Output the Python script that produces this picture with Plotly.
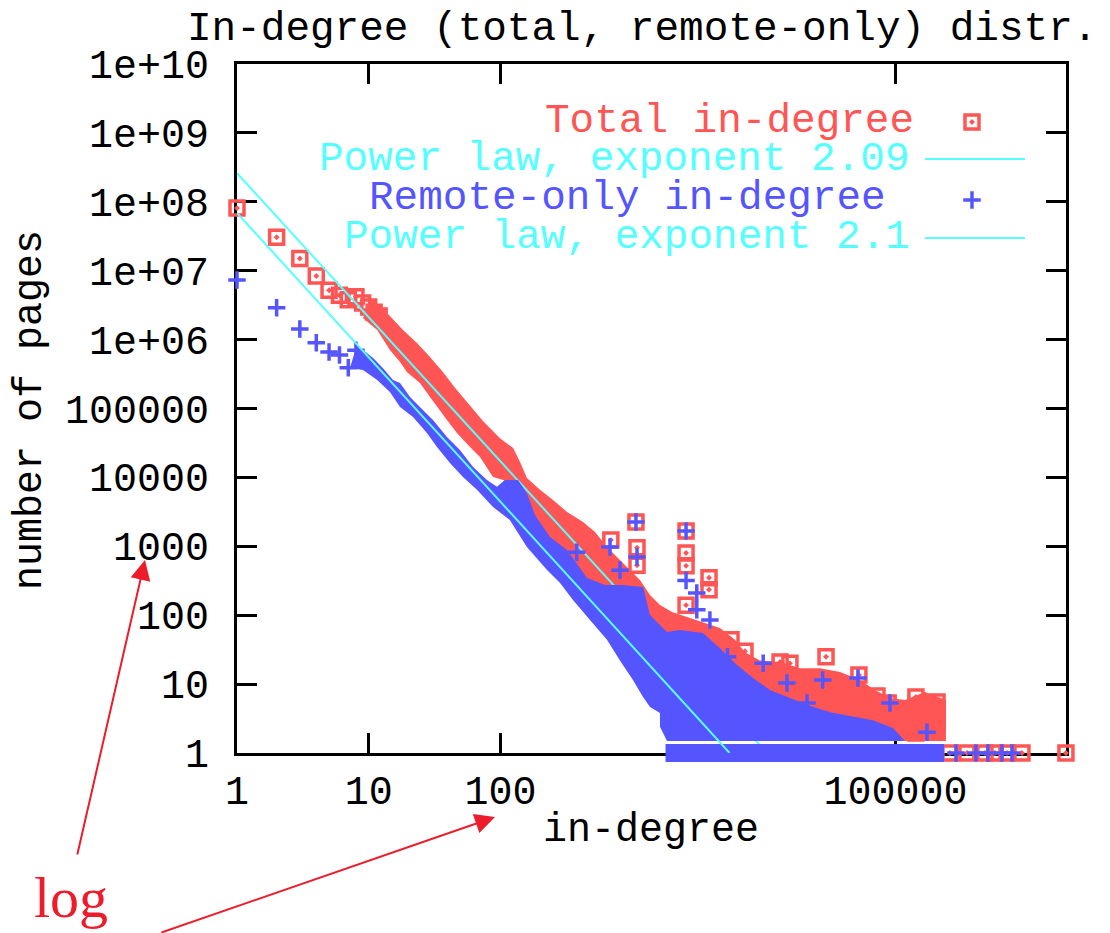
import plotly.graph_objects as go

RED = "#FF5555"
BLUE = "#5555FF"
CYAN = "#55FFFF"
NOTE_RED = "#EC1C2A"
FONT = "Liberation Mono"

# ---------------- data ----------------
# Total in-degree: isolated points (in-degree, number of pages)
total_k = [1, 2, 3, 4, 5, 6, 7, 8, 9, 10, 11, 12]
total_n = [8.1e7, 3.05e7, 1.5e7, 8.4e6, 5.2e6, 4.4e6, 3.8e6, 4.2e6, 3.4e6, 2.97e6, 2.5e6, 2.2e6]
total_out_k = [690, 1070, 1090, 1090, 2570, 2570, 2570, 2570, 3840, 3840, 5640, 7200,
               13300, 15800, 29700, 52800, 72400, 88000, 88000, 143000, 143000, 143000,
               143000, 207000, 207000]
total_out_n = [1230, 2250, 950, 530, 1670, 800, 520, 140, 350, 235, 44, 30,
               21, 20, 25, 13.6, 6.7, 5.3, 3.0, 6.5, 4.5, 2.8,
               1.95, 5.5, 2.8]
total_tail_k = [259000, 349000, 478000, 569000, 703000, 913000, 1970000]
total_tail_n = [1, 1, 1, 1, 1, 1, 1]
# Total in-degree: outline of the dense cloud of overlapping points
total_band_k = [10.6, 13.8, 18.2, 23.3, 29.2, 36.6, 45.2, 55.7, 73.8, 99.3, 125, 141, 159, 200,
                251, 321, 424, 523, 645, 809, 1148, 1368, 1629, 2010, 2754, 3580, 4648, 6043,
                7200, 9350, 13280, 18840, 26720, 37930, 53740, 69850, 90800, 118000, 167500,
                241700, 241700,
                2311, 1148, 809, 479, 284, 183, 141, 118, 87.9, 70, 58.8, 46.8, 39.3, 33, 29.2,
                24.5, 19.5, 17.3, 14.5, 11.6, 9.05]
total_band_n = [3.76e6, 2.43e6, 1.38e6, 8.9e5, 5.6e5, 3.4e5, 2.0e5, 1.24e5, 6.6e4, 3.7e4, 2.67e4,
                1.67e4, 9.8e3, 6.6e3, 4.7e3, 3.15e3, 2.25e3, 1.61e3, 977, 632, 324, 196, 141, 111,
                91, 77, 65, 44, 29, 22, 21, 17, 17, 15, 11.5, 8.2, 6.3, 5.9, 7.7,
                5.9, 1.49,
                1.49, 11.5, 37, 141, 453, 1230, 3970, 8600, 1.01e4, 1.98e4, 2.76e4, 4.41e4,
                6.81e4, 1.05e5, 1.47e5, 2.35e5, 3.39e5, 4.73e5, 7.06e5, 1.38e6, 2.06e6]

# Remote-only in-degree
remote_k = [1, 2, 3, 4, 5, 6, 7, 8, 9]
remote_n = [7.3e6, 2.9e6, 1.43e6, 9.0e5, 6.6e5, 6.0e5, 3.9e5, 7.0e5, 5.0e5]
remote_out_k = [380, 680, 810, 1070, 1090, 2570, 2570, 3100, 3100, 3900, 5300, 9900, 15000,
                11700, 21300, 28000, 30200, 51900, 90800, 173500]
remote_out_n = [820, 980, 450, 2250, 700, 1670, 320, 210, 120, 85, 25, 20, 10.4,
                5.3, 5.3, 11.5, 3.0, 12.3, 5.3, 2.0]
remote_tail_k = [288000, 408000, 504000, 644000, 767000]
remote_tail_n = [1, 1, 1, 1, 1]
# run of pages seen exactly once (solid row on the bottom axis)
remote_run_k = [2100, 2500, 3000, 3600, 4300, 5100, 6000, 7200, 8600, 10200, 12200, 14500,
                17300, 20600, 24500, 29200, 34700, 41400, 49300, 58700, 69900, 83200, 99100,
                118000, 141000, 168000, 200000]
remote_run_n = [1, 1, 1, 1, 1, 1, 1, 1, 1, 1, 1, 1, 1, 1, 1, 1, 1, 1, 1, 1, 1, 1, 1, 1, 1, 1, 1]
remote_band_k = [8.15, 10.8, 12.8, 15.3, 17.3, 20.6, 25.8, 30.8, 39.3, 49.3, 62, 79.1, 94.2, 108,
                 136, 159, 183, 238, 321, 455, 623, 853, 1211, 1368, 1841, 2311, 3455, 4648,
                 6266, 8279, 11140, 15810, 21280, 31840, 47560, 67450, 95700, 118000,
                 1841, 1629, 1629, 1368, 1211, 1016, 809, 645, 479, 356, 284, 226, 159, 118,
                 87.9, 66.4, 52, 41.4, 33, 27.7, 21.7, 17.3, 14.5, 11.6, 9.05, 7.2]
remote_band_n = [8.35e5, 5.41e5, 3.87e5, 2.59e5, 2.35e5, 1.47e5, 9.5e4, 6.81e4, 3.86e4, 2.5e4,
                 1.42e4, 9.2e3, 7.3e3, 9.2e3, 9.2e3, 5.9e3, 2.85e3, 1.36e3, 884, 347, 274, 274,
                 257, 101, 57, 61, 55, 33, 19, 12.3, 8.2, 6.3, 5.0, 3.9, 3.4, 3.0, 2.3, 1.49,
                 1.49, 2.4, 3.8, 4.65, 6.5, 11.5, 22, 44, 85, 166, 293, 453, 977, 2410,
                 3720, 6600, 1.01e4, 1.62e4, 2.76e4, 4.41e4, 7.53e4, 1.05e5, 1.73e5, 2.59e5,
                 3.62e5, 3.87e5]

# Power-law fits (end points of the straight lines on log-log axes)
fit_total_k = [1, 10600]
fit_total_n = [2.6e8, 1]
fit_remote_k = [1, 5500]
fit_remote_n = [6.9e7, 1]

# Axis ticks
x_tickvals = [1, 10, 100, 100000]
x_ticktext = ["1", "10", "100", "100000"]
y_tickvals = [1, 10, 100, 1e3, 1e4, 1e5, 1e6, 1e7, 1e8, 1e9, 1e10]
y_ticktext = ["1", "10", "100", "1000", "10000", "100000", "1e+06", "1e+07", "1e+08",
              "1e+09", "1e+10"]

legend_labels = ["Total in-degree", "Power law, exponent 2.09",
                 "Remote-only in-degree", "Power law, exponent 2.1"]
legend_colors = [RED, CYAN, BLUE, CYAN]

# ---------------- figure ----------------
fig = go.Figure()

fig.add_trace(go.Scatter(x=total_band_k, y=total_band_n, mode="lines", fill="toself",
                         fillcolor=RED, line=dict(width=0, color=RED), hoverinfo="skip"))
fig.add_trace(go.Scatter(x=total_k + total_out_k + total_tail_k,
                         y=total_n + total_out_n + total_tail_n, mode="markers",
                         cliponaxis=False,
                         marker=dict(symbol="square-open-dot", size=14, color=RED,
                                     line=dict(width=3.5, color=RED))))
fig.add_trace(go.Scatter(x=fit_total_k, y=fit_total_n, mode="lines",
                         line=dict(color=CYAN, width=2)))
fig.add_trace(go.Scatter(x=remote_band_k, y=remote_band_n, mode="lines", fill="toself",
                         fillcolor=BLUE, line=dict(width=0, color=BLUE), hoverinfo="skip"))
fig.add_trace(go.Scatter(x=remote_run_k, y=remote_run_n, mode="markers", cliponaxis=False,
                         marker=dict(symbol="square", size=18, color=BLUE,
                                     line=dict(width=0))))
fig.add_trace(go.Scatter(x=remote_k + remote_out_k + remote_tail_k,
                         y=remote_n + remote_out_n + remote_tail_n, mode="markers",
                         cliponaxis=False,
                         marker=dict(symbol="cross-thin", size=12.5, color=BLUE,
                                     line=dict(width=3.5, color=BLUE))))
fig.add_trace(go.Scatter(x=fit_remote_k, y=fit_remote_n, mode="lines",
                         line=dict(color=CYAN, width=2)))

# legend samples (drawn on an overlay 0..1 frame)
fig.add_trace(go.Scatter(x=[0.8866], y=[0.9158], xaxis="x2", yaxis="y2", mode="markers",
                         marker=dict(symbol="square-open-dot", size=14, color=RED,
                                     line=dict(width=3.5, color=RED))))
fig.add_trace(go.Scatter(x=[0.8299, 0.9505], y=[0.8621, 0.8621], xaxis="x2", yaxis="y2",
                         mode="lines", line=dict(color=CYAN, width=2)))
fig.add_trace(go.Scatter(x=[0.8866], y=[0.8026], xaxis="x2", yaxis="y2", mode="markers",
                         marker=dict(symbol="cross-thin", size=12.5, color=BLUE,
                                     line=dict(width=3.5, color=BLUE))))
fig.add_trace(go.Scatter(x=[0.8299, 0.9505], y=[0.7475, 0.7475], xaxis="x2", yaxis="y2",
                         mode="lines", line=dict(color=CYAN, width=2)))

axis_common = dict(type="log", ticks="inside", ticklen=20, tickwidth=3, tickcolor="black",
                   showline=True, linewidth=3, linecolor="black", mirror="ticks",
                   showgrid=False, zeroline=False, layer="below traces",
                   tickfont=dict(family=FONT, size=40, color="black"))

# the page body adds an 8 px margin, so the figure is 8 px smaller and margins shifted
fig.update_layout(
    width=1102, height=925,
    margin=dict(l=229, r=44, t=56, b=180),
    paper_bgcolor="white", plot_bgcolor="white",
    showlegend=False,
    xaxis=dict(range=[0, 6.295], tickvals=x_tickvals, ticktext=x_ticktext,
               ticklabelstandoff=0, **axis_common),
    yaxis=dict(range=[0, 10], tickvals=y_tickvals, ticktext=y_ticktext,
               ticklabelstandoff=17, **axis_common),
    xaxis2=dict(overlaying="x", range=[0, 1], visible=False, anchor="y2"),
    yaxis2=dict(overlaying="y", range=[0, 1], visible=False, anchor="x2"),
)

annotations = [
    dict(text="In-degree (total, remote-only) distr.", x=-0.0627, y=1.0508, xanchor="left",
         yanchor="middle", font=dict(family=FONT, size=41, color="black")),
    dict(text="in-degree", x=0.4994, y=-0.1132, xanchor="center", yanchor="middle",
         font=dict(family=FONT, size=40, color="black")),
    dict(text="number of pages", x=-0.2497, y=0.4978, xanchor="center", yanchor="middle",
         textangle=-90, font=dict(family=FONT, size=40, color="black")),
]
legend_x = [0.3691, 0.0965, 0.1568, 0.1267]
legend_y = [0.9173, 0.8614, 0.8048, 0.7482]
for lab, col, lx, ly in zip(legend_labels, legend_colors, legend_x, legend_y):
    annotations.append(dict(text=lab, x=lx, y=ly, xanchor="left", yanchor="middle",
                            font=dict(family=FONT, size=41, color=col)))
# red hand-drawn note with arrows
annotations.append(dict(text="log", x=-0.2473, y=-0.2100, xanchor="left", yanchor="middle",
                        font=dict(family="Liberation Serif", size=58, color=NOTE_RED)))
annotations.append(dict(text="", x=-0.1110, y=0.2801, ax=-68, ay=296, showarrow=True,
                        arrowcolor=NOTE_RED, arrowwidth=2, arrowhead=2, arrowsize=2))
annotations.append(dict(text="", x=0.3112, y=-0.0929, ax=-335, ay=118, showarrow=True,
                        arrowcolor=NOTE_RED, arrowwidth=2, arrowhead=2, arrowsize=2))
for a in annotations:
    a.setdefault("xref", "paper")
    a.setdefault("yref", "paper")
    if "showarrow" not in a:
        a["showarrow"] = False
fig.update_layout(annotations=annotations)

# faint scan residue at the right edge of the reference
fig.add_shape(type="line", xref="paper", yref="paper", x0=1.0446, x1=1.0446, y0=0.2438,
              y1=-0.261, line=dict(color="#E4E4E4", width=2, dash="dot"))

fig.write_html("out.html")
